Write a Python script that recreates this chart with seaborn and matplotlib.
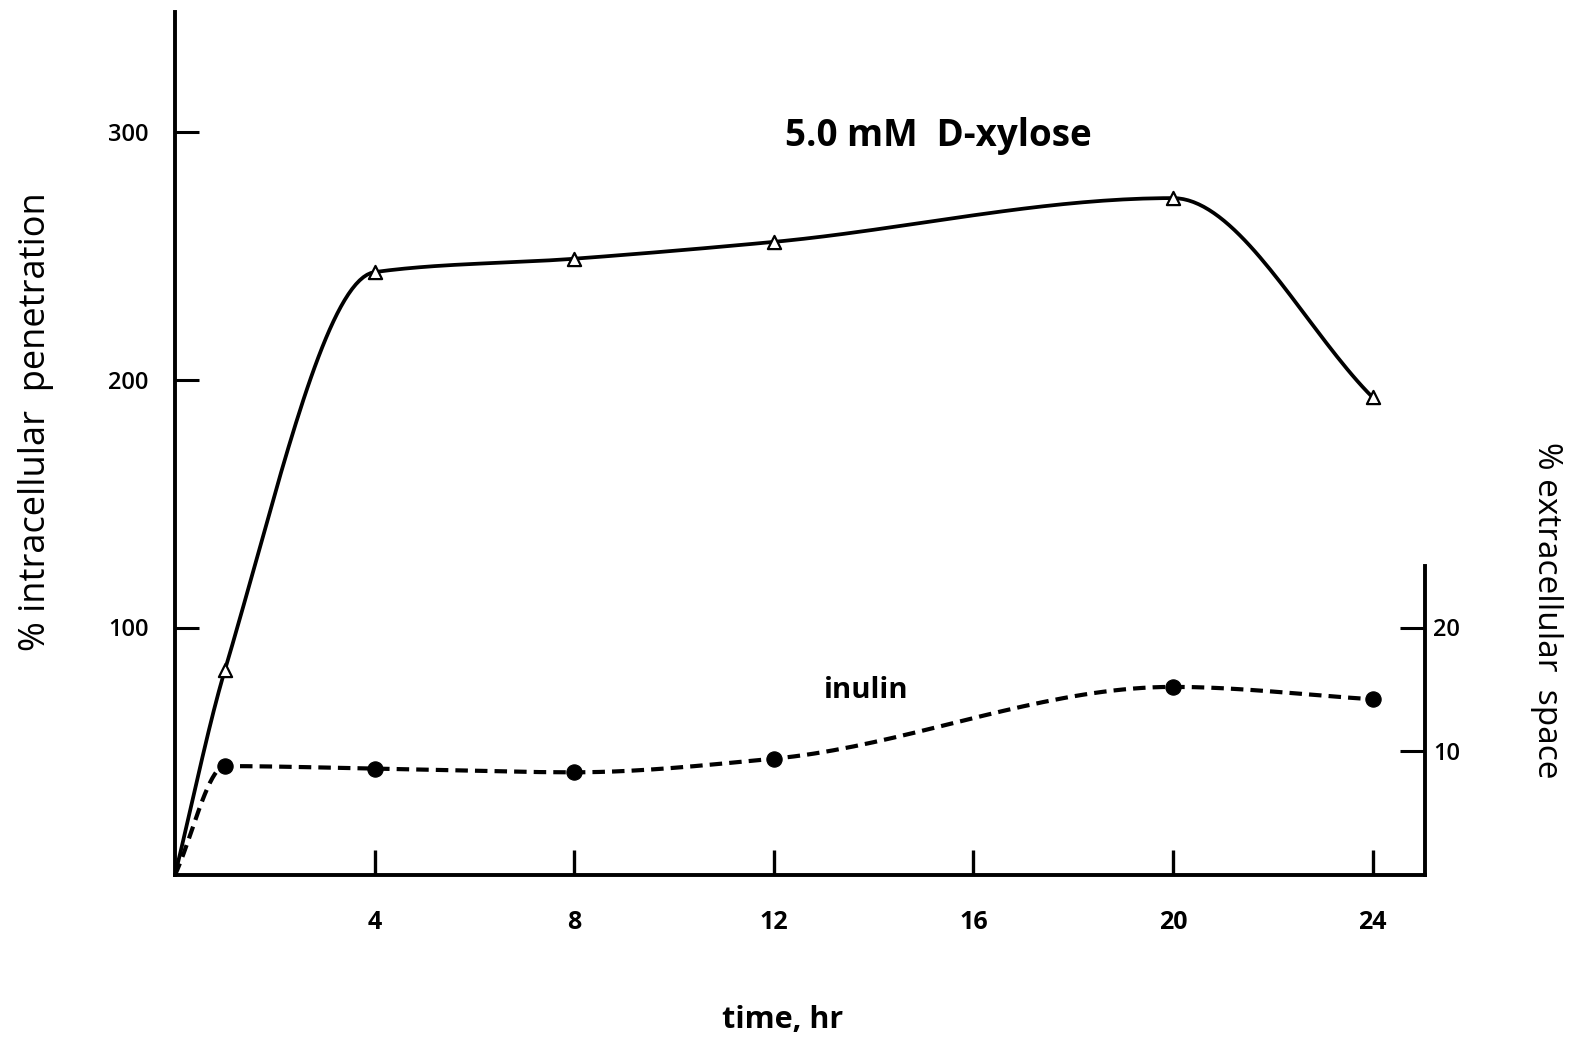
import numpy as np
import pandas as pd
import matplotlib
matplotlib.use("Agg")
import matplotlib.pyplot as plt
import seaborn as sns

# ---- data ----
time_hr = [0, 1, 4, 8, 12, 20, 24]
xylose_pct = [0, 82.8, 243.6, 249.0, 255.8, 273.5, 193.0]   # % intracellular penetration (left axis)
inulin_pct = [0, 8.8, 8.6, 8.3, 9.4, 15.2, 14.2]            # % extracellular space (right axis)
x_ticks = [4, 8, 12, 16, 20, 24]
left_ticks = [100, 200, 300]
right_ticks = [10, 20]
title_text = "5.0 mM  D-xylose"
inulin_text = "inulin"
xlabel_text = "time, hr"
ylabel_left = "% intracellular  penetration"
ylabel_right = "% extracellular  space"


def smooth(x, y, n=40):
    """Monotone cubic (PCHIP-style) curve through the points, for the hand-drawn look."""
    x = np.asarray(x, float)
    y = np.asarray(y, float)
    h = np.diff(x)
    d = np.diff(y) / h
    m = np.zeros_like(y)
    m[0] = d[0]
    m[-1] = d[-1]
    for i in range(1, len(x) - 1):
        if d[i - 1] * d[i] > 0:
            w1 = 2 * h[i] + h[i - 1]
            w2 = h[i] + 2 * h[i - 1]
            m[i] = (w1 + w2) / (w1 / d[i - 1] + w2 / d[i])
    xs, ys = [], []
    for i in range(len(x) - 1):
        t = np.linspace(0, 1, n, endpoint=(i == len(x) - 2))
        h00 = 2 * t**3 - 3 * t**2 + 1
        h10 = t**3 - 2 * t**2 + t
        h01 = -2 * t**3 + 3 * t**2
        h11 = t**3 - t**2
        xs.append(x[i] + t * h[i])
        ys.append(h00 * y[i] + h10 * h[i] * m[i] + h01 * y[i + 1] + h11 * h[i] * m[i + 1])
    return np.concatenate(xs), np.concatenate(ys)


sns.set_theme(style="white")
plt.rcParams["font.family"] = ["Open Sans", "DejaVu Sans"]
plt.rcParams["text.color"] = "black"

W, H = 1571, 1041
fig = plt.figure(figsize=(W / 100, H / 100), dpi=100)
ax = fig.add_axes([175 / W, (H - 875) / H, 1250 / W, (875 - 12) / H])
ax2 = ax.twinx()

ymax_left = (875 - 12) / 2.475
ax.set_xlim(0, 25.05)
ax.set_ylim(0, ymax_left)
ax2.set_ylim(0, ymax_left / 5.0)

# xylose curve
xs, ys = smooth(time_hr, xylose_pct)
sns.lineplot(x=xs, y=ys, ax=ax, color="black", linewidth=2.7, sort=False,
             estimator=None)
sns.scatterplot(x=time_hr[1:], y=xylose_pct[1:], ax=ax, marker="^", s=90,
                facecolor="white", edgecolor="black", linewidth=1.6, zorder=5)

# inulin curve (right axis)
xs2, ys2 = smooth(time_hr, inulin_pct)
sns.lineplot(x=xs2, y=ys2, ax=ax2, color="black", linewidth=3.0, sort=False,
             estimator=None, linestyle=(0, (3.0, 1.7)))
sns.scatterplot(x=time_hr[1:], y=inulin_pct[1:], ax=ax2, marker="o", s=120,
                color="black", edgecolor="black", zorder=5)

# spines
for s in ["top", "right"]:
    ax.spines[s].set_visible(False)
for s in ["top", "left", "bottom"]:
    ax2.spines[s].set_visible(False)
for sp in (ax.spines["left"], ax.spines["bottom"], ax2.spines["right"]):
    sp.set_linewidth(2.8)
    sp.set_color("black")
ax2.spines["right"].set_bounds(0, 25)

# ticks
ax.set_xticks(x_ticks)
ax.set_xticklabels([str(t) for t in x_ticks])
ax.set_yticks(left_ticks)
ax.set_yticklabels([str(t) for t in left_ticks])
ax2.set_yticks(right_ticks)
ax2.set_yticklabels([str(t) for t in right_ticks])

ax.tick_params(axis="x", direction="in", length=18, width=2.4, pad=25,
               labelsize=18, bottom=True, colors="black")
ax.tick_params(axis="y", direction="in", length=17, width=2.2, pad=19,
               labelsize=17, left=True, colors="black")
ax2.tick_params(axis="y", direction="in", length=18, width=2.2, pad=6,
                labelsize=17, right=True, colors="black")
for lab in ax.get_xticklabels():
    lab.set_fontweight("bold")
for lab in ax.get_yticklabels() + ax2.get_yticklabels():
    lab.set_fontweight("semibold")

ax.set_xlabel("")
ax.set_ylabel("")
ax2.set_ylabel("")
ax.grid(False)
ax2.grid(False)

# texts
fig.text(938 / W, 1 - 136 / H, title_text, ha="center", va="center",
         fontsize=26.5, fontweight="bold", color="black")
fig.text(866 / W, 1 - 690 / H, inulin_text, ha="center", va="center",
         fontsize=21, fontweight="bold", color="black")
fig.text(783 / W, 1 - 1020 / H, xlabel_text, ha="center", va="center",
         fontsize=22, fontweight="bold", color="black")
fig.text(36 / W, 1 - 422 / H, ylabel_left, ha="center", va="center",
         rotation=90, fontsize=26, color="black")
fig.text(1546 / W, 1 - 610 / H, ylabel_right, ha="center", va="center",
         rotation=270, fontsize=24, color="black")

fig.savefig("out.png", dpi=100, facecolor="white")
